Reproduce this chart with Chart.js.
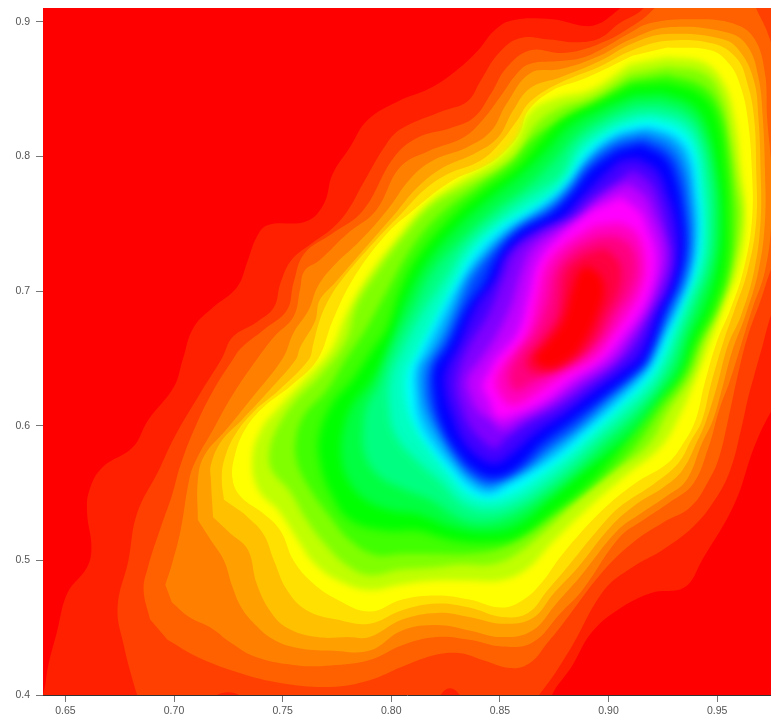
<!DOCTYPE html>
<html>
<head>
<meta charset="utf-8">
<title>contour</title>
<script src="https://cdn.jsdelivr.net/npm/chart.js@4"></script>
<style>
html, body { margin: 0; padding: 0; background: #fff; }
canvas { display: block; filter: blur(0.5px); }
</style>
</head>
<body>
<canvas id="chart1" width="771" height="720"></canvas>
<script>
// axis ticks
var xTicks = [0.65, 0.70, 0.75, 0.80, 0.85, 0.90, 0.95];
var yTicks = [0.4, 0.5, 0.6, 0.7, 0.8, 0.9];

// contour colours, outermost to innermost
var levelColors = [
    '#ff0000', '#ff2000', '#ff4000', '#ff6000', '#ff8000', '#ffa000', '#ffc000', '#ffe000',
    '#ffff00', '#c0ff00', '#80ff00', '#40ff00', '#00ff00', '#00ff40', '#00ff80', '#00ffc0',
    '#00ffff', '#00c0ff', '#0080ff', '#0040ff', '#0000ff', '#4000ff', '#8000ff', '#c000ff',
    '#ff00ff', '#ff00c0', '#ff0080', '#ff0040', '#ff0000'
];

// contour outlines: x, y, x, y ...
var level00 = [.60,.35, 1.02,.35, 1.02,.95, .60,.95];
var level01 = [.634,.374, .640,.402, .642,.421, .646,.446, .651,.476, .660,.495, .662,.510, .660,.535, .661,.552, .667,.569, .681,.584, .688,.604, .700,.629, .704,.649, .709,.673, .718,.688, .729,.703, .734,.723, .738,.740, .743,.749, .761,.752, .769,.765, .773,.787, .781,.807, .789,.827, .803,.841, .818,.851, .830,.864, .840,.879, .847,.893, .855,.901, .874,.902, .889,.897, .896,.899, .903,.907, .910,.916, .942,.938, .997,.938, .997,.700, .985,.635, .975,.611, .967,.584, .958,.542, .943,.500, .935,.480, .920,.476, .904,.463, .892,.446, .883,.421, .874,.400, .869,.374];
var level02 = [.684,.395, .681,.411, .677,.436, .674,.465, .679,.500, .683,.535, .693,.567, .700,.591, .712,.624, .722,.650, .727,.666, .738,.677, .746,.688, .749,.706, .754,.723, .763,.735, .773,.747, .780,.760, .787,.780, .798,.810, .805,.821, .824,.834, .835,.841, .841,.856, .849,.876, .859,.888, .873,.887, .885,.885, .896,.888, .905,.899, .916,.910, .924,.931, .997,.931, .997,.800, .983,.715, .975,.683, .971,.660, .967,.637, .964,.619, .961,.597, .956,.567, .949,.545, .939,.525, .925,.508, .911,.495, .898,.478, .882,.433, .869,.402, .862,.392, .836,.395, .827,.405, .818,.395, .740,.393, .725,.402, .712,.393];
var level03 = [.689,.456, .686,.478, .688,.495, .694,.525, .699,.548, .703,.571, .710,.600, .718,.626, .727,.649, .731,.658, .741,.671, .752,.686, .755,.706, .760,.728, .773,.743, .787,.760, .801,.799, .812,.814, .827,.821, .838,.829, .846,.847, .853,.866, .864,.879, .878,.877, .887,.879, .896,.884, .907,.893, .921,.910, .928,.931, .963,.931, .968,.910, .973,.893, .979,.864, .993,.804, .983,.745, .975,.717, .970,.693, .964,.666, .960,.641, .955,.604, .951,.577, .947,.562, .938,.540, .925,.528, .911,.513, .897,.491, .879,.453, .872,.439, .864,.424, .855,.420, .842,.426, .832,.431, .821,.430, .805,.421, .790,.411, .772,.406, .749,.409, .731,.416, .711,.428, .697,.441];
var level04 = [.696,.482, .699,.497, .703,.522, .707,.560, .710,.574, .718,.597, .727,.623, .738,.649, .746,.666, .755,.681, .758,.701, .760,.715, .767,.723, .780,.743, .793,.760, .804,.792, .817,.804, .833,.814, .842,.827, .850,.844, .858,.862, .864,.869, .878,.871, .887,.873, .896,.879, .909,.891, .919,.899, .939,.902, .957,.899, .967,.888, .972,.862, .973,.829, .975,.790, .975,.752, .972,.715, .966,.686, .961,.660, .956,.634, .951,.612, .946,.584, .939,.557, .928,.543, .916,.530, .905,.517, .888,.478, .878,.461, .865,.439, .851,.436, .836,.441, .821,.443, .805,.437, .790,.426, .772,.422, .757,.422, .738,.428, .726,.439, .717,.450, .707,.458, .699,.469];
var level05 = [.711,.530, .711,.560, .714,.578, .724,.597, .735,.619, .750,.650, .755,.669, .762,.686, .766,.703, .773,.718, .786,.738, .798,.760, .809,.784, .819,.797, .835,.807, .846,.819, .853,.839, .864,.862, .878,.865, .896,.875, .910,.887, .927,.896, .955,.892, .964,.882, .969,.859, .971,.829, .972,.790, .972,.752, .969,.715, .963,.682, .957,.656, .952,.626, .948,.604, .943,.587, .936,.560, .927,.548, .915,.535, .904,.522, .887,.488, .876,.468, .865,.448, .851,.443, .836,.448, .821,.452, .805,.448, .790,.433, .772,.433, .757,.435, .746,.441, .737,.453, .731,.465, .727,.480, .723,.500, .717,.515];
var level06 = [.718,.532, .717,.560, .717,.571, .722,.589, .731,.604, .742,.623, .756,.649, .758,.658, .765,.678, .767,.693, .774,.706, .789,.734, .803,.760, .812,.777, .824,.792, .838,.802, .849,.814, .856,.834, .864,.851, .878,.859, .896,.871, .911,.884, .927,.891, .953,.887, .961,.877, .967,.856, .969,.829, .970,.790, .970,.752, .967,.715, .961,.682, .955,.660, .950,.630, .945,.604, .941,.589, .934,.567, .925,.554, .913,.542, .901,.525, .886,.495, .875,.476, .865,.457, .851,.453, .836,.458, .821,.461, .805,.456, .790,.443, .780,.443, .766,.443, .752,.450, .744,.463, .738,.483, .734,.508, .726,.520];
var level07 = [.723,.545, .722,.560, .723,.574, .728,.593, .737,.611, .748,.626, .762,.649, .764,.660, .767,.678, .771,.693, .777,.708, .793,.738, .806,.760, .815,.775, .826,.787, .841,.797, .850,.810, .858,.827, .864,.841, .878,.855, .896,.867, .911,.879, .927,.886, .948,.884, .959,.873, .964,.854, .967,.829, .968,.790, .968,.752, .964,.715, .958,.686, .953,.663, .947,.630, .943,.604, .938,.589, .932,.572, .921,.557, .907,.542, .899,.530, .881,.495, .872,.478, .863,.461, .851,.458, .836,.465, .821,.468, .805,.463, .790,.453, .775,.456, .761,.463, .752,.478, .746,.500, .741,.520, .732,.535];
var level08 = [.927,.881, .947,.879, .956,.868, .961,.851, .964,.829, .966,.790, .966,.752, .962,.715, .956,.686, .950,.663, .944,.630, .940,.604, .934,.586, .927,.572, .912,.557, .897,.537, .879,.505, .869,.483, .861,.471, .851,.465, .836,.471, .821,.474, .805,.471, .790,.462, .775,.471, .764,.483, .755,.500, .749,.522, .741,.535, .731,.547, .727,.560, .728,.578, .733,.598, .742,.615, .754,.630, .766,.649, .773,.678, .782,.708, .797,.741, .810,.760, .828,.782, .842,.792, .851,.802, .859,.817, .863,.834, .874,.849, .889,.858, .911,.875];
var level09 = [.927,.874, .944,.870, .953,.855, .958,.829, .961,.790, .963,.755, .960,.718, .953,.688, .947,.663, .940,.634, .933,.608, .924,.584, .908,.563, .892,.541, .874,.513, .862,.493, .850,.485, .836,.485, .821,.485, .804,.482, .790,.478, .777,.484, .765,.497, .757,.515, .748,.537, .739,.552, .736,.574, .740,.597, .749,.615, .760,.634, .772,.656, .779,.682, .788,.708, .802,.738, .816,.764, .832,.782, .848,.797, .857,.812, .864,.833, .875,.843, .892,.850, .910,.869];
var level10 = [.927,.867, .944,.862, .952,.845, .956,.816, .959,.782, .961,.755, .957,.718, .951,.688, .944,.663, .938,.637, .928,.612, .918,.585, .903,.567, .887,.547, .871,.522, .857,.504, .846,.497, .832,.497, .821,.495, .804,.493, .790,.489, .779,.497, .770,.511, .761,.530, .753,.552, .745,.567, .744,.582, .748,.600, .756,.619, .767,.637, .779,.663, .784,.689, .794,.715, .806,.741, .819,.764, .834,.778, .850,.792, .859,.804, .866,.823, .877,.836, .892,.844, .910,.862];
var level11 = [.927,.861, .943,.853, .951,.836, .955,.804, .957,.775, .958,.755, .956,.718, .950,.688, .942,.663, .935,.636, .924,.612, .911,.582, .896,.560, .880,.541, .864,.522, .850,.509, .836,.505, .821,.505, .804,.505, .793,.504, .781,.515, .771,.534, .763,.552, .757,.571, .756,.589, .760,.608, .770,.626, .779,.649, .788,.671, .797,.697, .810,.734, .823,.758, .840,.778, .855,.795, .864,.812, .875,.824, .892,.838, .910,.856];
var level12 = [.927,.855, .942,.847, .950,.829, .954,.790, .955,.755, .954,.718, .948,.688, .940,.663, .932,.636, .918,.612, .904,.580, .889,.554, .874,.535, .858,.517, .843,.513, .828,.515, .812,.522, .798,.522, .781,.530, .772,.550, .767,.574, .767,.594, .773,.617, .782,.634, .792,.658, .798,.672, .804,.700, .812,.725, .828,.755, .843,.775, .858,.792, .869,.812, .880,.829, .896,.841, .911,.853];
var level13 = [.925,.847, .938,.839, .945,.824, .950,.788, .952,.751, .950,.718, .945,.689, .938,.666, .933,.641, .924,.621, .913,.598, .901,.581, .887,.564, .873,.545, .858,.526, .844,.521, .829,.524, .813,.534, .800,.537, .788,.545, .780,.560, .777,.578, .778,.597, .782,.615, .791,.634, .799,.660, .806,.691, .816,.721, .831,.749, .846,.770, .859,.786, .871,.804, .882,.823, .897,.836, .912,.846];
var level14 = [.924,.840, .936,.833, .943,.818, .948,.784, .949,.748, .947,.718, .941,.691, .935,.667, .930,.644, .922,.625, .910,.603, .898,.586, .886,.568, .872,.550, .858,.535, .844,.528, .832,.531, .818,.545, .804,.554, .794,.563, .788,.578, .787,.597, .789,.615, .794,.630, .800,.656, .810,.688, .820,.717, .834,.741, .848,.761, .862,.777, .874,.795, .886,.817, .899,.830, .912,.839];
var level15 = [.921,.833, .934,.827, .941,.813, .945,.781, .946,.745, .944,.718, .938,.692, .932,.668, .927,.647, .920,.628, .907,.607, .895,.590, .883,.572, .869,.554, .857,.542, .845,.537, .833,.542, .823,.558, .812,.574, .802,.593, .799,.615, .800,.637, .805,.656, .814,.683, .825,.710, .835,.734, .849,.754, .862,.769, .878,.786, .886,.808, .900,.824, .913,.832];
var level16 = [.920,.827, .932,.821, .939,.807, .942,.777, .943,.743, .941,.718, .935,.693, .929,.669, .924,.649, .917,.632, .904,.612, .892,.594, .880,.577, .866,.560, .856,.550, .845,.545, .835,.550, .828,.562, .819,.580, .811,.599, .807,.619, .807,.639, .810,.649, .819,.676, .829,.706, .837,.728, .849,.747, .862,.760, .874,.772, .881,.784, .889,.804, .902,.819, .914,.826];
var level17 = [.919,.822, .930,.816, .937,.803, .940,.775, .941,.741, .938,.715, .933,.692, .927,.670, .921,.648, .915,.634, .902,.614, .890,.597, .878,.580, .864,.565, .854,.556, .845,.549, .836,.555, .829,.567, .820,.584, .813,.603, .811,.623, .811,.641, .814,.652, .823,.681, .832,.707, .840,.727, .852,.746, .865,.759, .874,.769, .882,.781, .891,.801, .903,.816, .915,.821];
var level18 = [.918,.818, .929,.811, .935,.797, .938,.771, .939,.738, .937,.713, .931,.689, .924,.667, .919,.648, .913,.637, .900,.617, .888,.600, .875,.583, .863,.569, .852,.560, .845,.554, .837,.561, .830,.573, .822,.591, .816,.609, .814,.623, .814,.643, .819,.655, .828,.684, .835,.709, .843,.725, .855,.744, .874,.765, .882,.778, .891,.797, .903,.812, .915,.818];
var level19 = [.917,.813, .927,.805, .933,.790, .936,.764, .937,.735, .934,.710, .928,.688, .920,.657, .915,.643, .898,.619, .886,.601, .872,.584, .860,.568, .846,.558, .838,.563, .830,.577, .823,.597, .818,.616, .817,.633, .819,.647, .826,.666, .832,.689, .840,.715, .856,.743, .874,.761, .883,.775, .891,.793, .903,.808, .915,.813];
var level20 = [.915,.809, .926,.799, .931,.782, .934,.758, .935,.732, .932,.708, .926,.686, .917,.649, .911,.639, .897,.621, .883,.604, .869,.587, .858,.569, .848,.562, .839,.567, .830,.582, .823,.602, .820,.624, .820,.643, .826,.658, .835,.688, .843,.706, .848,.723, .858,.743, .874,.758, .883,.772, .892,.790, .904,.804];
var level21 = [.913,.799, .922,.790, .927,.773, .931,.751, .932,.729, .929,.706, .923,.685, .915,.653, .907,.641, .893,.625, .880,.609, .866,.594, .856,.580, .848,.572, .840,.577, .833,.589, .828,.608, .825,.625, .825,.640, .831,.660, .839,.689, .848,.710, .852,.726, .864,.743, .879,.755, .887,.769, .896,.784, .905,.797];
var level22 = [.911,.790, .919,.781, .924,.764, .927,.744, .929,.725, .926,.703, .920,.685, .912,.660, .904,.646, .890,.629, .877,.614, .863,.602, .852,.589, .848,.583, .842,.589, .836,.600, .832,.615, .830,.628, .831,.641, .836,.660, .845,.684, .852,.712, .857,.730, .869,.744, .883,.755, .891,.767, .899,.776];
var level23 = [.909,.780, .917,.770, .921,.756, .925,.739, .926,.722, .922,.701, .917,.683, .910,.665, .902,.648, .887,.632, .874,.617, .861,.606, .851,.597, .846,.604, .840,.611, .836,.624, .835,.635, .840,.647, .848,.666, .855,.689, .860,.715, .865,.732, .875,.744, .887,.754, .895,.767, .902,.775];
var level24 = [.906,.770, .915,.758, .918,.747, .921,.734, .922,.719, .919,.698, .914,.682, .908,.669, .898,.650, .883,.634, .871,.619, .858,.609, .849,.606, .845,.619, .842,.630, .845,.640, .848,.649, .858,.669, .863,.695, .868,.723, .879,.743, .892,.760];
var level25 = [.905,.751, .913,.743, .917,.721, .915,.701, .909,.683, .902,.667, .894,.650, .879,.637, .868,.625, .856,.615, .850,.623, .848,.635, .852,.647, .862,.667, .867,.695, .871,.719, .880,.735, .894,.749];
var level26 = [.903,.741, .910,.734, .913,.717, .910,.699, .904,.684, .898,.667, .889,.652, .875,.641, .864,.631, .857,.626, .854,.637, .858,.652, .866,.669, .872,.693, .875,.714, .883,.730, .895,.740];
var level27 = [.898,.732, .904,.724, .906,.712, .904,.697, .899,.682, .894,.665, .886,.651, .873,.640, .865,.640, .862,.647, .869,.663, .876,.680, .878,.697, .880,.715, .888,.727];
var level28 = [.890,.719, .896,.712, .898,.700, .895,.683, .889,.663, .882,.650, .872,.643, .866,.650, .871,.660, .879,.678, .883,.700, .886,.714];

var levels = [
    level00, level01, level02, level03, level04, level05, level06, level07, level08, level09,
    level10, level11, level12, level13, level14, level15, level16, level17, level18, level19,
    level20, level21, level22, level23, level24, level25, level26, level27, level28
];

// flat list -> points
function toPoints(arr) {
    var pts = [];
    for (var i = 0; i < arr.length; i += 2) {
        pts.push({x: arr[i], y: arr[i + 1]});
    }
    return pts;
}

var datasets = levels.map(function (lvl, i) {
    return {
        data: toPoints(lvl),
        showLine: true,
        fill: 'shape',
        backgroundColor: levelColors[i],
        borderWidth: 0,
        pointRadius: 0,
        tension: i === 0 ? 0 : 0.4,
        order: levels.length - i // outer rings are painted first
    };
});

// chart.js only closes the outline for radar lines, so mark them as loops here
var closeRings = {
    id: 'closeRings',
    afterDatasetsUpdate: function (chart) {
        chart.getSortedVisibleDatasetMetas().forEach(function (meta) {
            meta.dataset._loop = true;
            meta.dataset._segments = undefined;
            meta.dataset._pointsUpdated = false;
        });
    },
    // the filler runs before this plugin, so the filter set here hits the next ring.
    // the inner rings of the picture are nearly a smooth gradient
    afterDatasetDraw: function (chart, args) {
        var next = args.index + 1;
        chart.ctx.filter = next < 9 ? 'none' : (next < 12 ? 'blur(3px)' : 'blur(4px)');
    },
    afterDatasetsDraw: function (chart) {
        chart.ctx.filter = 'none';
    }
};

var tickFont = {family: '"Liberation Sans", Arial, sans-serif', size: 10.5};

new Chart(document.getElementById('chart1'), {
    type: 'scatter',
    data: {datasets: datasets},
    plugins: [closeRings],
    options: {
        responsive: false,
        animation: false,
        layout: {padding: {top: 8, right: 0, left: 0, bottom: 0}},
        plugins: {legend: {display: false}, tooltip: {enabled: false}},
        scales: {
            x: {
                type: 'linear',
                min: 0.6397,
                max: 0.9748,
                afterBuildTicks: function (axis) {
                    axis.ticks = xTicks.map(function (v) { return {value: v}; });
                },
                afterFit: function (axis) {
                    axis.height = 25;
                    axis.paddingLeft = 0;
                    axis.paddingRight = 0;
                },
                grid: {drawOnChartArea: false, tickLength: 7, color: '#777'},
                border: {color: '#333'},
                ticks: {
                    font: tickFont,
                    color: '#555',
                    padding: 3,
                    maxRotation: 0,
                    autoSkip: false,
                    callback: function (v) { return v.toFixed(2); }
                }
            },
            xTop: {
                type: 'linear',
                position: 'top',
                min: 0.6397,
                max: 0.9748,
                afterFit: function (axis) { axis.height = 0; },
                grid: {drawOnChartArea: false, drawTicks: false},
                border: {color: '#a08878'},
                ticks: {display: false}
            },
            y: {
                type: 'linear',
                min: 0.4,
                max: 0.9104,
                afterBuildTicks: function (axis) {
                    axis.ticks = yTicks.map(function (v) { return {value: v}; });
                },
                afterFit: function (axis) {
                    axis.width = 43;
                    axis.paddingTop = 0;
                    axis.paddingBottom = 0;
                },
                grid: {drawOnChartArea: false, tickLength: 7, color: '#777'},
                border: {color: '#333'},
                ticks: {
                    font: tickFont,
                    color: '#555',
                    padding: 6,
                    autoSkip: false,
                    callback: function (v) { return v.toFixed(1); }
                }
            }
        }
    }
});
</script>
</body>
</html>
